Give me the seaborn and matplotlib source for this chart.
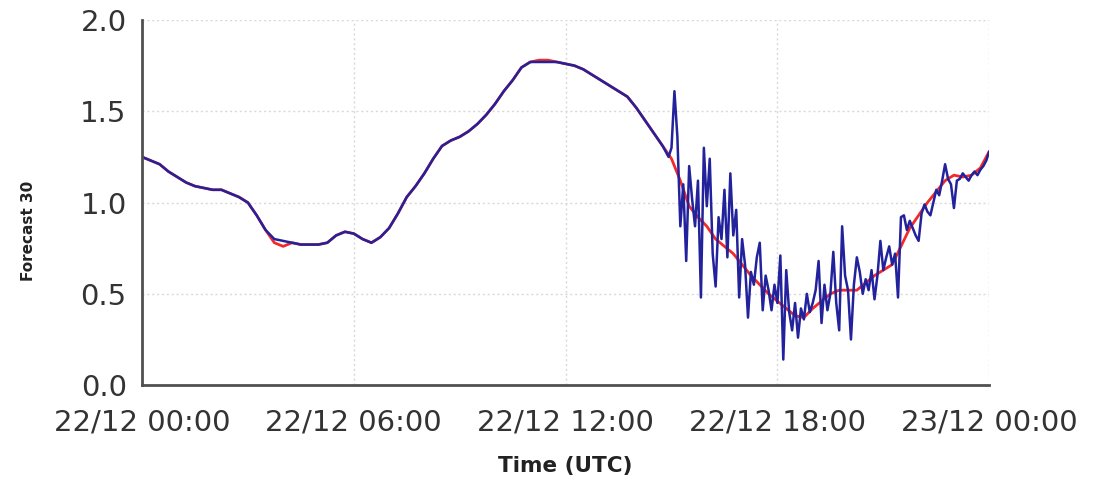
import numpy as np
import pandas as pd
import matplotlib
matplotlib.use("Agg")
import matplotlib.pyplot as plt
import matplotlib.dates as mdates
import seaborn as sns

# ---------------- data ----------------
start = "2013-12-22 00:00"
# red forecast series, 15-minute steps, 00:00 .. 24:00
red_values = [
    1.25, 1.23, 1.21, 1.17, 1.14, 1.11, 1.09, 1.08, 1.07, 1.07, 1.05, 1.03,
    1.00, 0.93, 0.85, 0.78, 0.76, 0.78, 0.77, 0.77, 0.77, 0.78, 0.82, 0.84,
    0.83, 0.80, 0.78, 0.81, 0.86, 0.94, 1.03, 1.09, 1.16, 1.24, 1.31, 1.34,
    1.36, 1.39, 1.43, 1.48, 1.54, 1.61, 1.67, 1.74, 1.77, 1.78, 1.78, 1.77,
    1.76, 1.75, 1.73, 1.70, 1.67, 1.64, 1.61, 1.58, 1.52, 1.45, 1.38, 1.31,
    1.24, 1.12, 0.98, 0.92, 0.87, 0.80, 0.76, 0.72, 0.66, 0.60, 0.55, 0.50,
    0.46, 0.42, 0.38, 0.37, 0.42, 0.46, 0.50, 0.52, 0.52, 0.52, 0.56, 0.60,
    0.63, 0.66, 0.76, 0.86, 0.93, 1.00, 1.06, 1.12, 1.15, 1.14, 1.15, 1.19,
    1.28,
]
# blue series, smooth part: 15-minute steps, 00:00 .. 14:45
blue_smooth_values = [
    1.25, 1.23, 1.21, 1.17, 1.14, 1.11, 1.09, 1.08, 1.07, 1.07, 1.05, 1.03,
    1.00, 0.93, 0.85, 0.80, 0.79, 0.78, 0.77, 0.77, 0.77, 0.78, 0.82, 0.84,
    0.83, 0.80, 0.78, 0.81, 0.86, 0.94, 1.03, 1.09, 1.16, 1.24, 1.31, 1.34,
    1.36, 1.39, 1.43, 1.48, 1.54, 1.61, 1.67, 1.74, 1.77, 1.77, 1.77, 1.77,
    1.76, 1.75, 1.73, 1.70, 1.67, 1.64, 1.61, 1.58, 1.52, 1.45, 1.38, 1.31,
]
# blue series, noisy part: 5-minute steps, 14:50 .. 24:00
blue_noisy_values = [
    1.28, 1.25, 1.30, 1.61, 1.36, 0.87, 1.10, 0.68, 1.20, 1.02, 0.87, 1.12,
    0.48, 1.30, 0.98, 1.24, 0.72, 0.54, 0.92, 0.80, 1.07, 0.70, 1.16, 0.82,
    0.96, 0.48, 0.80, 0.66, 0.37, 0.62, 0.55, 0.70, 0.78, 0.41, 0.60, 0.52,
    0.41, 0.55, 0.45, 0.71, 0.14, 0.63, 0.40, 0.30, 0.45, 0.26, 0.42, 0.36,
    0.50, 0.40, 0.45, 0.52, 0.68, 0.34, 0.55, 0.41, 0.50, 0.73, 0.45, 0.30,
    0.87, 0.60, 0.52, 0.25, 0.55, 0.70, 0.62, 0.50, 0.58, 0.52, 0.63, 0.47,
    0.60, 0.79, 0.63, 0.70, 0.76, 0.66, 0.72, 0.48, 0.92, 0.93, 0.85, 0.90,
    0.86, 0.82, 0.79, 0.94, 0.99, 0.95, 0.93, 1.00, 1.07, 1.04, 1.12, 1.21,
    1.13, 1.10, 0.97, 1.12, 1.13, 1.16, 1.14, 1.12, 1.15, 1.17, 1.15, 1.18,
    1.20, 1.23, 1.28,
]
x_ticks = ["2013-12-22 00:00", "2013-12-22 06:00", "2013-12-22 12:00",
           "2013-12-22 18:00", "2013-12-23 00:00"]
y_ticks = [0.0, 0.5, 1.0, 1.5, 2.0]
x_label = "Time (UTC)"
y_label = "Forecast 30"

red_df = pd.DataFrame({
    "time": pd.date_range(start, periods=len(red_values), freq="15min"),
    "value": red_values,
})
blue_df = pd.concat([
    pd.DataFrame({"time": pd.date_range(start, periods=len(blue_smooth_values), freq="15min"),
                  "value": blue_smooth_values}),
    pd.DataFrame({"time": pd.date_range("2013-12-22 14:50", periods=len(blue_noisy_values), freq="5min"),
                  "value": blue_noisy_values}),
], ignore_index=True)

# ---------------- plot ----------------
sns.set_style("white")
plt.rcParams["font.family"] = ["DejaVu Sans"]

fig = plt.figure(figsize=(11.09, 4.82), dpi=100)
ax = fig.add_axes([0.128, 0.201, 0.764, 0.7575])

sns.lineplot(data=red_df, x="time", y="value", ax=ax, color="#f22a2a",
             linewidth=2.0, estimator=None)
sns.lineplot(data=blue_df, x="time", y="value", ax=ax, color="#22229c",
             linewidth=1.8, estimator=None)

tick_pos = pd.to_datetime(x_ticks)
ax.set_xlim(tick_pos[0], tick_pos[-1])
ax.set_ylim(0, 2.0)
ax.set_xticks(tick_pos)
ax.xaxis.set_major_formatter(mdates.DateFormatter("%d/%m %H:%M"))
ax.set_yticks(y_ticks)
ax.set_yticklabels([f"{v:.1f}" for v in y_ticks])

ax.grid(True, linestyle=(0, (1.5, 2)), color="#d8d8d8", linewidth=1.0)
ax.set_axisbelow(True)
for s in ["top", "right"]:
    ax.spines[s].set_visible(False)
for s in ["left", "bottom"]:
    ax.spines[s].set_color("#505050")
    ax.spines[s].set_linewidth(2.0)

ax.tick_params(axis="both", which="major", labelsize=21, colors="#505050",
               labelcolor="#333333", length=7, width=1.8, direction="out")
ax.tick_params(axis="y", pad=4)
ax.tick_params(axis="x", pad=10)

ax.set_xlabel(x_label, fontsize=15.5, fontweight="bold", color="#222222")
ax.set_ylabel(y_label, fontsize=11, fontweight="bold", color="#222222")
ax.xaxis.set_label_coords(0.5, -0.195)
ax.yaxis.set_label_coords(-0.125, 0.422)

fig.savefig("out.png", dpi=100)
